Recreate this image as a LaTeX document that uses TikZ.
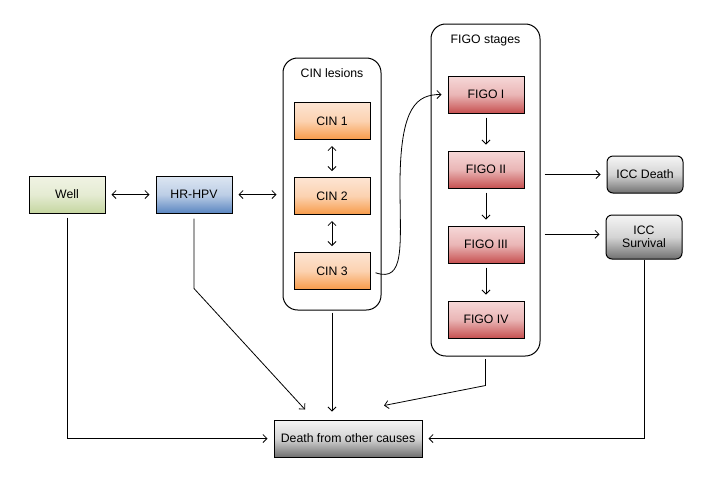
\documentclass[tikz,border=0pt]{standalone}
\usepackage{fontspec}
\setmainfont{Liberation Sans}
\usepackage{xcolor}
\usepackage{tikz}
\usetikzlibrary{arrows.meta,calc,positioning}
\definecolor{welltop}{HTML}{F0F3E4}
\definecolor{wellbot}{HTML}{C5D6A0}
\definecolor{hpvtop}{HTML}{DDE6F2}
\definecolor{hpvbot}{HTML}{5B86C1}
\definecolor{cintop}{HTML}{FDE5D3}
\definecolor{cinbot}{HTML}{F79A48}
\definecolor{figotop}{HTML}{F6D8D8}
\definecolor{figobot}{HTML}{C65050}
\definecolor{greytop}{HTML}{F5F5F5}
\definecolor{greybot}{HTML}{707070}
\newcommand{\statefont}{\fontsize{9.2}{11}\selectfont}
\tikzset{
  statebox/.style={draw=black,line width=0.75pt,minimum width=57pt,
    minimum height=27.75pt,align=center,inner sep=2pt,font=\statefont},
  shadedbox/.style 2 args={top color=#1,bottom color=#2,middle color=#1!75!#2},
  wellbox/.style={statebox,shadedbox={welltop}{wellbot}},
  hpvbox/.style={statebox,shadedbox={hpvtop}{hpvbot}},
  cinbox/.style={statebox,shadedbox={cintop}{cinbot}},
  figobox/.style={statebox,shadedbox={figotop}{figobot}},
  iccbox/.style={statebox,rounded corners=4.5pt,shadedbox={greytop}{greybot}},
  deathbox/.style={statebox,minimum width=111pt,shadedbox={greytop}{greybot}},
  groupbox/.style={draw=black,line width=0.75pt,rounded corners=11pt},
  grouplabel/.style={font=\statefont},
  flow/.style={-{Straight Barb[length=3pt,width=6pt]},line width=0.6pt,
    shorten >=4.5pt},
  biflow/.style={{Straight Barb[length=3pt,width=6pt]}-{Straight Barb[length=3pt,width=6pt]},
    line width=0.6pt,shorten >=4.5pt,shorten <=4.5pt}
}

\begin{document}
\begin{tikzpicture}[x=0.75pt,y=-0.75pt,node distance=27.75pt and 37.5pt]
  \useasboundingbox (0,0) rectangle (720,480);
  \node[wellbox] (well) at (67,194.5) {Well};
  \node[hpvbox,right=of well] (hpv) {HR-HPV};
  \node[groupbox,minimum width=73.5pt,minimum height=189pt] (cingroup) at (332,184) {};
  \node[grouplabel] (cintitle) at ([yshift=-12pt]cingroup.north) {CIN lesions};
  \node[cinbox] (cin2) at (332,196) {CIN 2};
  \node[cinbox,above=of cin2] (cin1) {CIN 1};
  \node[cinbox,below=of cin2] (cin3) {CIN 3};
  \node[groupbox,minimum width=81.75pt,minimum height=249pt] (figogroup) at (485.5,190) {};
  \node[grouplabel] (figotitle) at ([yshift=-12.75pt]figogroup.north) {FIGO stages};
  \node[figobox] (figo1) at (486,94.5) {FIGO I};
  \node[figobox,below=of figo1] (figo2) {FIGO II};
  \node[figobox,below=of figo2] (figo3) {FIGO III};
  \node[figobox,below=of figo3] (figo4) {FIGO IV};
  \node[iccbox] (iccdeath) at (645,174.5) {ICC Death};
  \node[iccbox,minimum height=33pt] (iccsurv) at (644,237) {ICC\\[-1pt]Survival};
  \node[deathbox] (other) at (348,438.5) {Death from other causes};
  \coordinate (bend) at (400,185);
  \coordinate (hpvend) at ([xshift=-32.25pt,yshift=7.5pt]other.north);
  \coordinate (figoend) at ([xshift=27pt,yshift=10.5pt]other.north);
  \draw[biflow] (well) -- (hpv);
  \draw[biflow] (hpv.east) -- (hpv.east -| cingroup.west);
  \draw[biflow] (cin1) -- (cin2);
  \draw[biflow] (cin2) -- (cin3);
  \draw[flow,shorten <=4pt] (cin3.east) .. controls +(35,12) and +(0,60) .. (bend)
    .. controls +(0,-80) and +(-30,0) .. (figo1.west);
  \draw[flow,shorten <=3pt] (figo1) -- (figo2);
  \draw[flow,shorten <=3pt] (figo2) -- (figo3);
  \draw[flow,shorten <=3pt] (figo3) -- (figo4);
  \draw[flow,shorten <=3pt] (figogroup.east |- iccdeath.west) -- (iccdeath.west);
  \draw[flow,shorten <=3pt] ([yshift=2pt]figogroup.east |- iccsurv.west) -- ([yshift=2pt]iccsurv.west);
  \draw[flow,shorten <=3pt] (well.south) |- (other.west);
  \draw[flow] (iccsurv.south) |- (other.east);
  \draw[flow,shorten >=0pt,shorten <=3.75pt] (hpv.south) -- ++(0,75) -- (hpvend);
  \draw[flow,shorten >=6pt,shorten <=1.5pt] (cingroup.south) -- (cingroup.south |- other.north);
  \draw[flow,shorten >=0pt,shorten <=2pt] (figogroup.south) -- ++(0,29) -- (figoend);
\end{tikzpicture}
\end{document}
